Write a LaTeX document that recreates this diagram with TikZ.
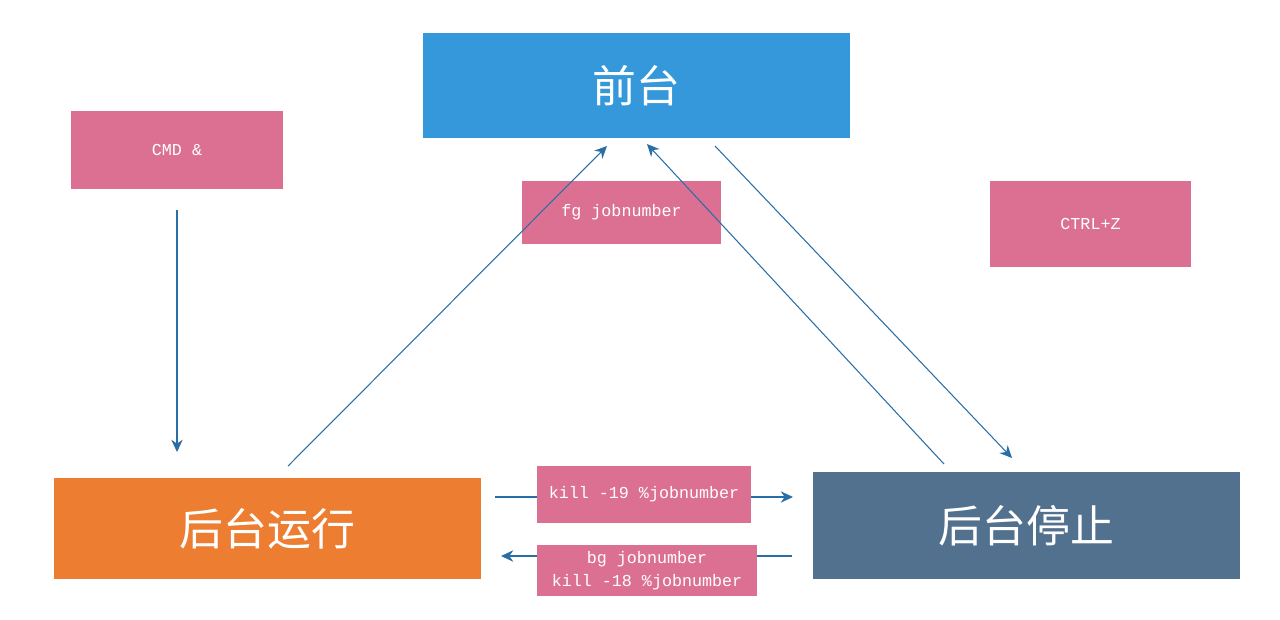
\documentclass[tikz,border=0pt]{standalone}
\usepackage{fontspec}
\setmonofont{Liberation Mono}
\newfontfamily\cjk{Noto Sans CJK SC}
\usepackage{tikz}
\usetikzlibrary{arrows.meta,positioning,calc}
\definecolor{stateFront}{HTML}{3598DB}
\definecolor{stateRun}{HTML}{ED7D31}
\definecolor{stateStop}{HTML}{52718F}
\definecolor{cmdPink}{HTML}{DC7093}
\definecolor{flowBlue}{HTML}{2A6EA6}

\begin{document}
\begin{tikzpicture}[x=0.02cm,y=-0.02cm]
    \tikzset{
      state/.style={inner sep=0pt, text=white, font=\cjk\fontsize{25}{30}\selectfont},
      cmdbox/.style={fill=cmdPink, inner sep=0pt, text=white, align=center,
        font=\ttfamily\fontsize{9.5}{13}\selectfont},
      flow/.style={draw=flowBlue, line width=0.6pt, -{Stealth[length=7pt,width=6.5pt]}}
    }
    \useasboundingbox (0,0) rectangle (1280,619);

    % States
    \node[state, fill=stateFront, minimum width=8.54cm, minimum height=2.10cm] (front) at (636.5,85.5) {前台};
    \node[state, fill=stateRun, minimum width=8.54cm, minimum height=2.02cm] (run) at (267.5,528.5) {后台运行};
    \node[state, fill=stateStop, minimum width=8.54cm, minimum height=2.14cm] (stop) at (1026.5,525.5) {后台停止};

    % Free ends of the transitions
    \coordinate (cmdA) at (177,210);
    \coordinate (cmdB) at (177,452);
    \coordinate (runUp) at (288,466);
    \coordinate (frontL) at (607,146);
    \coordinate (stopUp) at (944,464);
    \coordinate (frontM) at (647,144);
    \coordinate (frontR) at (715,146);
    \coordinate (stopIn) at (1012,458);
    \coordinate (runR1) at (495,497);
    \coordinate (stopL1) at (793,497);
    \coordinate (stopL2) at (792,556);
    \coordinate (runR2) at (501,556);

    % Commands lying under the diagonals
    \node[cmdbox, minimum width=4.24cm, minimum height=1.56cm] (cmd) at (177,150) {CMD \&};
    \node[cmdbox, minimum width=3.98cm, minimum height=1.26cm] (fg) at (621.5,212.5) {fg jobnumber};
    \node[cmdbox, minimum width=4.02cm, minimum height=1.72cm] (ctrlz) at (1090.5,224) {CTRL+Z};

    % Transitions
    \draw[flow] (cmdA) -- (cmdB);
    \draw[flow] (runUp) -- (frontL);
    \draw[flow] (stopUp) -- (frontM);
    \draw[flow] (frontR) -- (stopIn);
    \draw[flow] (runR1) -- (stopL1);
    \draw[flow] (stopL2) -- (runR2);

    % Commands over the horizontals
    \node[cmdbox, minimum width=4.28cm, minimum height=1.14cm] (kill19) at (644,494) {kill -19 \%jobnumber};
    \node[cmdbox, minimum width=4.40cm, minimum height=1.02cm] (bg) at (647,570.5) {bg jobnumber\\kill -18 \%jobnumber};
  \end{tikzpicture}
\end{document}
